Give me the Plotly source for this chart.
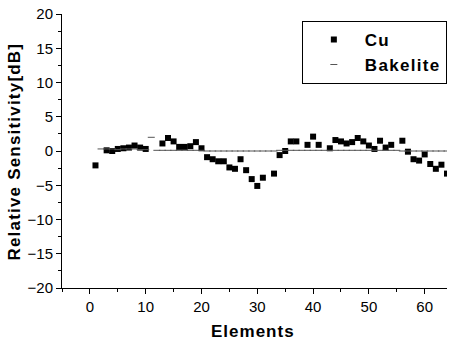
import plotly.graph_objects as go

# Cu sensitivity per element (dB)
cu_elements = [1, 3, 4, 5, 6, 7, 8, 9, 10, 13, 14, 15, 16, 17, 18, 19, 20,
               21, 22, 23, 24, 25, 26, 27, 28, 29, 30, 31, 33, 34, 35, 36, 37,
               39, 40, 41, 43, 44, 45, 46, 47, 48, 49, 50, 51, 52, 53, 54, 56,
               57, 58, 59, 60, 61, 62, 63, 64]
cu_values = [-2.1, 0.1, 0.0, 0.3, 0.4, 0.5, 0.8, 0.5, 0.3, 1.1, 1.9, 1.4, 0.6,
             0.6, 0.7, 1.3, 0.4, -0.9, -1.2, -1.5, -1.5, -2.4, -2.6, -1.2, -2.8,
             -4.1, -5.1, -3.9, -3.3, -0.6, 0.0, 1.4, 1.4, 0.9, 2.1, 0.9, 0.4,
             1.6, 1.4, 1.1, 1.3, 1.9, 1.4, 0.8, 0.3, 1.5, 0.5, 0.9, 1.5, -0.1,
             -1.2, -1.4, -0.5, -1.9, -2.6, -2.0, -3.3]

# Bakelite sensitivity per element (dB)
bak_elements = list(range(2, 65))
bak_values = [0.3, 0.3, 0.3, 0.2, 0.3, 0.3, 0.3, 0.2, 0.2, 2.0, 0.1, 0.1, 0.1,
              0.1, 0.1, 0.1, 0.1, 0.1, 0.1, 0.0, 0.0, 0.0, 0.0, 0.0, 0.0, 0.0,
              0.0, 0.0, 0.0, 0.0, 0.0, 0.0, 0.1, 0.1, 0.1, 0.1, 0.1, 0.1, 0.1,
              0.1, 0.1, 0.1, 0.1, 0.1, 0.1, 0.1, 0.1, 0.1, 0.1, 0.1, 0.1, 0.1,
              0.1, 0.1, 0.0, 0.0, 0.0, 0.0, 0.0, 0.0, 0.0, 0.0, 0.0]

x_ticks = [0, 10, 20, 30, 40, 50, 60]
y_ticks = [-20, -15, -10, -5, 0, 5, 10, 15, 20]

FONT = "Liberation Sans, Arial, sans-serif"


def spaced(text, px):
    return f'<span style="letter-spacing:{px}px">{text}</span>'


fig = go.Figure()
fig.add_trace(go.Scatter(
    x=cu_elements, y=cu_values, mode="markers",
    name=spaced("<b>Cu</b>", 1),
    marker=dict(symbol="square", size=6, color="black", line=dict(width=0)),
))
fig.add_trace(go.Scatter(
    x=bak_elements, y=bak_values, mode="markers",
    name=spaced("<b>Bakelite</b>", 1.3),
    marker=dict(symbol="line-ew", size=5, color="#555555",
                line=dict(width=1, color="#555555")),
))

axis_common = dict(
    showline=True, linecolor="black", linewidth=1,
    ticks="outside", ticklen=5, tickwidth=1, tickcolor="black",
    showgrid=False, zeroline=False, mirror=False,
    tickfont=dict(family=FONT, size=15, color="black"),
)

fig.update_layout(
    width=458, height=343,
    margin=dict(l=62, r=11, t=14, b=55, autoexpand=False),
    paper_bgcolor="white", plot_bgcolor="white",
    font=dict(family=FONT, color="black"),
    xaxis=dict(
        range=[-5, 64], tickvals=x_ticks,
        minor=dict(tickvals=[-5, 5, 15, 25, 35, 45, 55], ticks="outside",
                   ticklen=3, tickcolor="black"),
        **axis_common,
    ),
    yaxis=dict(
        range=[-20, 20], tickvals=y_ticks,
        minor=dict(dtick=2.5, ticks="outside", ticklen=3, tickcolor="black"),
        **axis_common,
    ),
    legend=dict(
        x=0.623, y=0.975, xanchor="left", yanchor="top",
        bordercolor="black", borderwidth=1, bgcolor="white",
        font=dict(family=FONT, size=17, color="black"),
        itemsizing="trace", itemwidth=52, tracegroupgap=0,
    ),
    showlegend=True,
)

# Axis titles
fig.add_annotation(
    text=spaced("<b>Elements</b>", 1), xref="paper", yref="paper",
    x=0.496, y=-0.16, xanchor="center", yanchor="middle", showarrow=False,
    font=dict(family=FONT, size=17, color="black"),
)
fig.add_annotation(
    text=spaced("<b>Relative Sensitivity[dB]</b>", 1.2), xref="paper",
    yref="paper", x=-0.122, y=0.498, xanchor="center", yanchor="middle",
    textangle=-90, showarrow=False,
    font=dict(family=FONT, size=17, color="black"),
)

fig.write_html("out.html")
